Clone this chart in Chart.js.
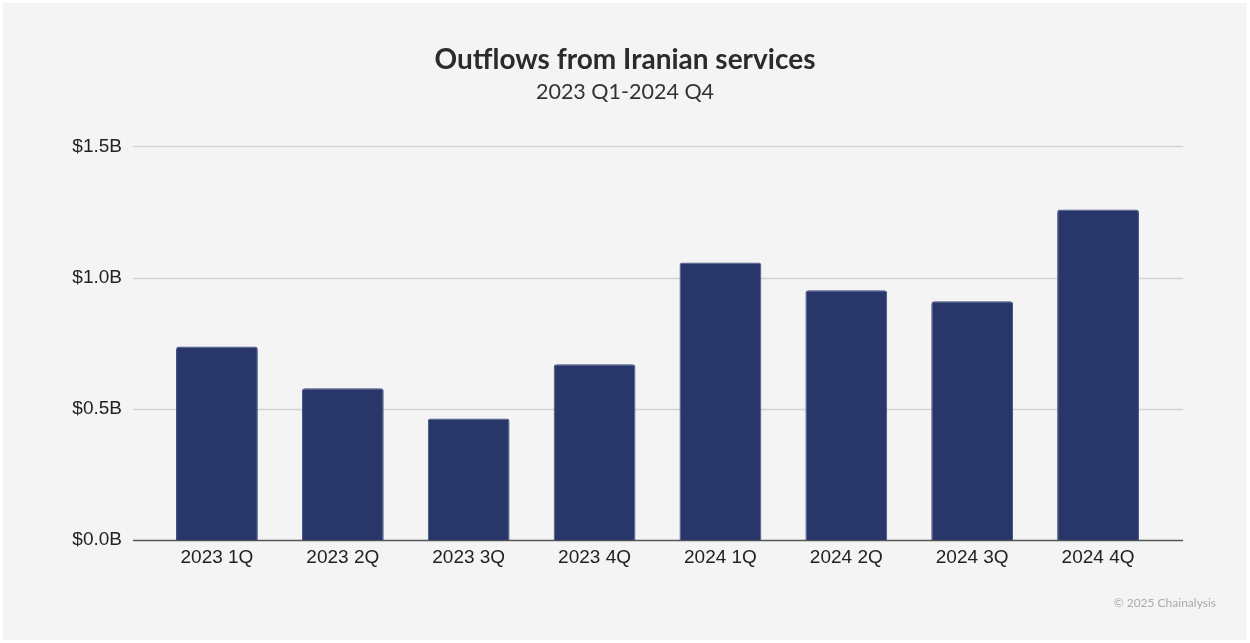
<!DOCTYPE html>
<html>
<head>
<meta charset="utf-8">
<script src="https://cdn.jsdelivr.net/npm/chart.js@4.4.1/dist/chart.umd.min.js"></script>
<style>
    html, body { margin: 0; padding: 0; background: #ffffff; }
    #wrap { position: absolute; left: 3px; top: 3px; width: 1244px; height: 637px; background: #f4f4f4; }
    #foot { position: absolute; right: 31px; bottom: 30px; font: 12px Lato, sans-serif; color: #aaaaaa; }
</style>
</head>
<body>
<div id="wrap">
    <canvas id="barChart" width="1244" height="637"></canvas>
    <div id="foot">© 2025 Chainalysis</div>
</div>
<script>
var quarters = ['2023 1Q', '2023 2Q', '2023 3Q', '2023 4Q', '2024 1Q', '2024 2Q', '2024 3Q', '2024 4Q'];
var outflows = [0.738, 0.579, 0.464, 0.670, 1.058, 0.952, 0.910, 1.260]; // billions USD
var yTicks = [0, 0.5, 1.0, 1.5];

// gridlines run wider than the bar area, so draw them from the y scale ourselves
var wideGrid = {
    id: 'wideGrid',
    beforeDatasetsDraw: function (chart) {
        var c = chart.ctx;
        var y = chart.scales.y;
        var left = chart.chartArea.left - 21;
        var right = chart.chartArea.right + 22;
        c.save();
        yTicks.forEach(function (v) {
            var py = Math.round(y.getPixelForValue(v)) + 0.5;
            c.beginPath();
            c.lineWidth = 1.5;
            c.strokeStyle = v === 0 ? '#555555' : '#d2d2d2';
            c.moveTo(left, py);
            c.lineTo(right, py);
            c.stroke();
        });
        c.restore();
    }
};

function loadChart() {
    var ctx = document.getElementById('barChart').getContext('2d');
    var chart = new Chart(ctx, {
        type: 'bar',
        data: {
            labels: quarters,
            datasets: [
                {
                    data: outflows,
                    backgroundColor: '#28366a',
                    borderColor: '#3f4d82',
                    borderWidth: 1,
                    borderRadius: { topLeft: 3, topRight: 3 },
                    borderSkipped: 'bottom',
                    barPercentage: 0.65,
                    categoryPercentage: 1
                }
            ]
        },
        options: {
            responsive: false,
            animation: false,
            layout: { padding: { left: 0, right: 0, top: 10, bottom: 65 } },
            plugins: {
                legend: { display: false },
                tooltip: { enabled: false },
                title: {
                    display: true,
                    text: 'Outflows from Iranian services',
                    color: '#2b2b2b',
                    font: { family: 'Lato', size: 28, weight: 'bold' },
                    padding: { top: 30, bottom: 3 }
                },
                subtitle: {
                    display: true,
                    text: '2023 Q1-2024 Q4',
                    color: '#333333',
                    font: { family: 'Lato', size: 21.5 },
                    padding: { bottom: 41 }
                }
            },
            scales: {
                x: {
                    grid: { display: false, drawTicks: false },
                    border: { display: false },
                    ticks: {
                        color: '#222222',
                        font: { family: 'Liberation Sans', size: 19 },
                        padding: 6
                    }
                },
                y: {
                    min: 0,
                    max: 1.5,
                    afterBuildTicks: function (axis) {
                        axis.ticks = yTicks.map(function (v) { return { value: v }; });
                    },
                    afterFit: function (axis) { axis.width = 151; },
                    border: { display: false },
                    grid: { display: false, drawTicks: false },
                    ticks: {
                        color: '#222222',
                        font: { family: 'Liberation Sans', size: 19 },
                        padding: 32,
                        callback: function (v) { return '$' + Number(v).toFixed(1) + 'B'; }
                    }
                },
                // empty right axis keeps the plot symmetric so the title stays centred on the page
                yRight: {
                    position: 'right',
                    min: 0,
                    max: 1,
                    afterFit: function (axis) { axis.width = 86; },
                    border: { display: false },
                    grid: { display: false, drawTicks: false },
                    ticks: { display: false }
                }
            }
        },
        plugins: [wideGrid]
    });
}

loadChart();
</script>
</body>
</html>
